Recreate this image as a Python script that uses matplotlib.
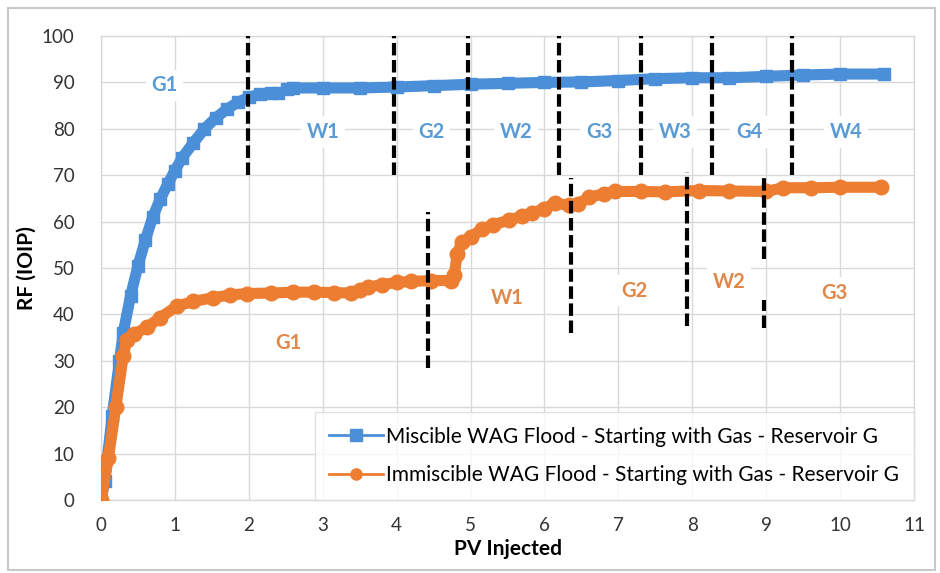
import numpy as np
import matplotlib
matplotlib.use("Agg")
import matplotlib.pyplot as plt
from matplotlib.patches import Rectangle
from matplotlib.lines import Line2D

plt.rcParams['font.family'] = ['Lato', 'DejaVu Sans']

# ---- data ----
mis_x = [0, 0.05, 0.15, 0.25, 0.3, 0.4, 0.5, 0.6, 0.7, 0.8, 0.9, 1.0, 1.1, 1.25, 1.4,
         1.55, 1.7, 1.85, 2.0, 2.15, 2.3, 2.4, 2.45, 2.52, 2.6, 3.0, 3.5, 4.0, 4.5, 5.0,
         5.5, 6.0, 6.5, 7.0, 7.5, 8.0, 8.5, 9.0, 9.5, 10.0, 10.6]
mis_y = [0, 4, 18, 30, 36, 44, 50.5, 56, 61, 64.8, 68, 71, 73.8, 77, 80,
         82.3, 84.2, 85.7, 86.8, 87.4, 87.7, 87.7, np.nan, 88.5, 88.8, 88.8, 88.8, 89, 89.3, 89.6,
         89.8, 90, 90.1, 90.4, 90.8, 91, 91, 91.3, 91.6, 91.8, 91.8]

imm_x = [0, 0.1, 0.2, 0.3, 0.35, 0.45, 0.62, 0.8, 1.03, 1.25, 1.52, 1.75, 1.98, 2.3, 2.6,
         2.88, 3.15, 3.38, 3.5, 3.61, 3.8, 4.0, 4.2, 4.46, 4.74, 4.78, 4.82, 4.88, 5.0, 5.15,
         5.3, 5.52, 5.7, 5.83, 6.0, 6.14, 6.33, 6.45, 6.6, 6.8, 6.95, 7.3, 7.63, 8.09, 8.5,
         9.0, 9.23, 9.6, 10.0, 10.55]
imm_y = [0, 9, 20, 31, 34.5, 35.8, 37.2, 39.3, 41.8, 42.8, 43.6, 44.2, 44.5, 44.6, 44.8,
         44.8, 44.7, 44.6, 45.3, 45.9, 46.4, 46.9, 47.1, 47.3, 47.3, 48.5, 53, 55.5, 56.7, 58.3,
         59.3, 60.3, 61.2, 61.8, 62.8, 64, 63.5, 63.8, 65.2, 66, 66.5, 66.5, 66.4, 66.7, 66.6,
         66.5, 67.3, 67.3, 67.4, 67.4]

mis_label = "Miscible WAG Flood - Starting with Gas - Reservoir G"
imm_label = "Immiscible WAG Flood - Starting with Gas - Reservoir G"

# phase boundaries (x, ymin, ymax)
mis_bounds = [(1.99, 70, 100), (3.97, 70, 100), (4.97, 70, 100), (6.2, 70, 100),
              (7.31, 70, 100), (8.27, 70, 100), (9.35, 70, 100)]
imm_bounds = [(4.42, 28.5, 62), (6.36, 36, 69.3), (7.93, 37.6, 70.6),
              (8.97, 52, 70), (8.97, 37, 43)]

mis_phase_labels = ["G1", "W1", "G2", "W2", "G3", "W3", "G4", "W4"]
mis_phase_x = [0.86, 3.0, 4.47, 5.62, 6.74, 7.77, 8.77, 10.08]
mis_phase_y = [89.4, 79.3, 79.3, 79.3, 79.3, 79.3, 79.3, 79.3]

imm_phase_labels = ["G1", "W1", "G2", "W2", "G3"]
imm_phase_x = [2.53, 5.49, 7.22, 8.5, 9.92]
imm_phase_y = [33.9, 43.6, 45.1, 46.9, 44.7]

x_ticks = list(range(0, 12))
y_ticks = list(range(0, 101, 10))

BLUE = "#4A8FD8"
ORANGE = "#ED7D31"

fig = plt.figure(figsize=(9.4, 5.73), dpi=100)
ax = fig.add_axes([101/940, 1-500/573, (914-101)/940, (500-36)/573])

ax.set_xlim(0, 11)
ax.set_ylim(0, 100)
ax.set_xticks(x_ticks)
ax.set_yticks(y_ticks)
ax.grid(True, color="#D9D9D9", linewidth=1.0, zorder=0)
ax.set_axisbelow(True)
for s in ax.spines.values():
    s.set_color("#D9D9D9")
    s.set_linewidth(1.0)
ax.tick_params(length=0, labelsize=13.5, colors="#333333")
ax.tick_params(axis="y", pad=19)
ax.tick_params(axis="x", pad=12)

# phase labels with white boxes (cover gridlines)
for t, x, y in zip(mis_phase_labels, mis_phase_x, mis_phase_y):
    ax.text(x, y, t, color="#5B9BD5", fontsize=14.5, fontweight="bold", ha="center", va="center",
            bbox=dict(facecolor="white", edgecolor="none", pad=4), zorder=2)
for t, x, y in zip(imm_phase_labels, imm_phase_x, imm_phase_y):
    ax.text(x, y, t, color="#E0884A", fontsize=14.5, fontweight="bold", ha="center", va="center",
            bbox=dict(facecolor="white", edgecolor="none", pad=4), zorder=2)

ax.plot(mis_x, mis_y, color=BLUE, linewidth=8, marker="s", markersize=9,
        label=mis_label, zorder=3, solid_capstyle="butt")
ax.plot(imm_x, imm_y, color=ORANGE, linewidth=8, marker="o", markersize=10.5,
        label=imm_label, zorder=4, solid_capstyle="round")

for x, y0, y1 in mis_bounds + imm_bounds:
    ax.plot([x, x], [y0, y1], color="black", linewidth=3, dashes=(3, 1.1), zorder=5)

ax.set_xlabel("PV Injected", fontsize=15, fontweight="bold", labelpad=4)
ax.set_ylabel("RF (IOIP)", fontsize=15, fontweight="bold", labelpad=4)

# legend
h1 = Line2D([], [], color=BLUE, linewidth=2, marker="s", markersize=8)
h2 = Line2D([], [], color=ORANGE, linewidth=2, marker="o", markersize=8)
leg = ax.legend([h1, h2], [mis_label, imm_label], loc="lower right",
                bbox_to_anchor=(1.0, 0.0), fontsize=15, frameon=True, fancybox=False,
                handlelength=2.6, handletextpad=0.15, borderpad=0.7, labelspacing=0.9,
                borderaxespad=0.0)
leg.get_frame().set_edgecolor("#D9D9D9")
leg.get_frame().set_linewidth(1.0)
leg.set_zorder(6)

# outer chart border
fig.patches.append(Rectangle((8/940, 3/573), (935-8)/940, (565-3)/573,
                             transform=fig.transFigure, fill=False,
                             edgecolor="#C8C8C8", linewidth=1.5))

fig.savefig("out.png", dpi=100)
